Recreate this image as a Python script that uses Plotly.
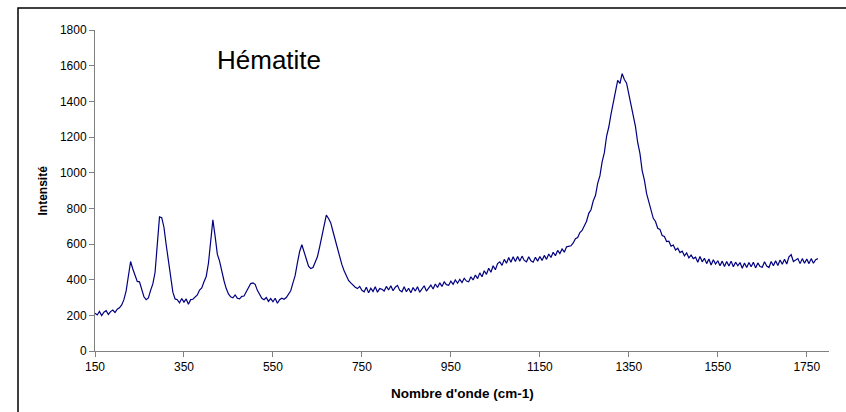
import plotly.graph_objects as go

# Raman spectrum of hematite, sampled every 5 cm-1 from 150 to 1775 cm-1
wavenumber_start = 150
wavenumber_step = 5

intensity = [
    # 150-195
    212, 202, 222, 199, 218, 226, 205, 221, 230, 216,
    # 200-245
    234, 242, 258, 288, 337, 428, 502, 460, 420, 390,
    # 250-295
    388, 344, 304, 288, 298, 340, 376, 440, 604, 752,
    # 300-345
    748, 694, 596, 502, 418, 330, 292, 288, 270, 294,
    # 350-395
    274, 292, 262, 288, 290, 304, 314, 342, 354, 388,
    # 400-445
    418, 492, 638, 735, 644, 543, 504, 438, 394, 350,
    # 450-495
    320, 304, 298, 314, 296, 292, 306, 308, 334, 354,
    # 500-545
    378, 382, 374, 340, 314, 296, 288, 300, 278, 294,
    # 550-595
    276, 296, 268, 288, 296, 290, 300, 320, 338, 382,
    # 600-645
    424, 494, 558, 596, 550, 516, 476, 462, 468, 504,
    # 650-695
    528, 584, 638, 702, 762, 743, 718, 670, 624, 568,
    # 700-745
    522, 484, 450, 420, 396, 382, 368, 358, 350, 362,
    # 750-795
    340, 332, 358, 326, 352, 334, 360, 330, 350, 346,
    # 800-845
    336, 362, 342, 366, 338, 358, 368, 340, 332, 360,
    # 850-895
    332, 352, 326, 356, 336, 360, 330, 350, 366, 336,
    # 900-945
    356, 370, 348, 376, 356, 382, 362, 388, 372, 368,
    # 950-995
    392, 374, 398, 380, 402, 384, 408, 392, 388, 416,
    # 1000-1045
    398, 426, 406, 438, 416, 450, 430, 464, 442, 478,
    # 1050-1095
    456, 490, 500, 480, 514, 492, 524, 498, 528, 502,
    # 1100-1145
    530, 504, 532, 508, 500, 528, 506, 498, 526, 504,
    # 1150-1195
    530, 508, 536, 514, 544, 524, 554, 534, 564, 546,
    # 1200-1245
    572, 554, 584, 588, 590, 606, 630, 636, 664, 676,
    # 1250-1295
    704, 728, 772, 792, 842, 872, 940, 982, 1060, 1112,
    # 1300-1345
    1204, 1256, 1328, 1396, 1468, 1518, 1500, 1555, 1522, 1502,
    # 1350-1395
    1440, 1380, 1316, 1258, 1168, 1108, 1012, 958, 882, 838,
    # 1400-1445
    786, 744, 726, 688, 682, 648, 642, 614, 616, 588,
    # 1450-1495
    594, 566, 576, 552, 560, 534, 550, 522, 538, 518,
    # 1500-1545
    526, 498, 530, 500, 520, 490, 516, 482, 512, 488,
    # 1550-1595
    506, 478, 504, 474, 502, 476, 504, 472, 498, 478,
    # 1600-1645
    496, 464, 494, 468, 496, 472, 498, 466, 494, 474,
    # 1650-1695
    470, 500, 476, 468, 502, 478, 506, 480, 510, 486,
    # 1700-1745
    514, 488, 528, 540, 502, 508, 518, 490, 518, 492,
    # 1750-1775
    516, 490, 518, 492, 512, 518,
]

wavenumber = [wavenumber_start + i * wavenumber_step for i in range(len(intensity))]

x_ticks = [150, 350, 550, 750, 950, 1150, 1350, 1550, 1750]
y_ticks = [0, 200, 400, 600, 800, 1000, 1200, 1400, 1600, 1800]

chart_title = "Hématite"
x_title = "Nombre d'onde (cm-1)"
y_title = "Intensité"

font_family = "Liberation Sans, Arial, sans-serif"

fig = go.Figure()
fig.add_trace(go.Scatter(
    x=wavenumber,
    y=intensity,
    mode="lines",
    line=dict(color="#000080", width=1.2),
    hoverinfo="x+y",
    showlegend=False,
))

axis_common = dict(
    showgrid=False,
    zeroline=False,
    showline=True,
    linecolor="#808080",
    linewidth=1,
    ticks="outside",
    ticklen=5,
    tickcolor="#808080",
    tickwidth=1,
    tickfont=dict(family=font_family, size=12, color="#000000"),
    mirror=False,
)

fig.update_xaxes(
    range=[150, 1800],
    tickmode="array",
    tickvals=x_ticks,
    ticktext=[str(v) for v in x_ticks],
    **axis_common,
)
fig.update_yaxes(
    range=[0, 1800],
    tickmode="array",
    tickvals=y_ticks,
    ticktext=[str(v) for v in y_ticks],
    **axis_common,
)

fig.update_layout(
    width=846,
    height=412,
    margin=dict(l=95, r=17, t=30, b=61),
    paper_bgcolor="#ffffff",
    plot_bgcolor="#ffffff",
    font=dict(family=font_family, color="#000000"),
    annotations=[
        dict(
            text=chart_title,
            xref="paper", yref="paper",
            x=0.1635, y=0.9065,
            xanchor="left", yanchor="middle",
            showarrow=False,
            font=dict(family=font_family, size=26, color="#000000"),
        ),
        dict(
            text="<b>" + x_title + "</b>",
            xref="paper", yref="paper",
            x=0.5, y=-0.131,
            xanchor="center", yanchor="middle",
            showarrow=False,
            font=dict(family=font_family, size=13.5, color="#000000"),
        ),
        dict(
            text="<b>" + y_title + "</b>",
            xref="paper", yref="paper",
            x=-0.0722, y=0.5,
            xanchor="center", yanchor="middle",
            textangle=-90,
            showarrow=False,
            font=dict(family=font_family, size=12, color="#000000"),
        ),
    ],
    shapes=[
        # chart frame around the whole figure
        dict(
            type="rect",
            xref="paper", yref="paper",
            x0=-0.1049, x1=1.06,
            y0=-0.3, y1=1.0685,
            line=dict(color="#000000", width=1.5),
            fillcolor="rgba(0,0,0,0)",
            layer="above",
        ),
    ],
)

fig.write_html("out.html")
